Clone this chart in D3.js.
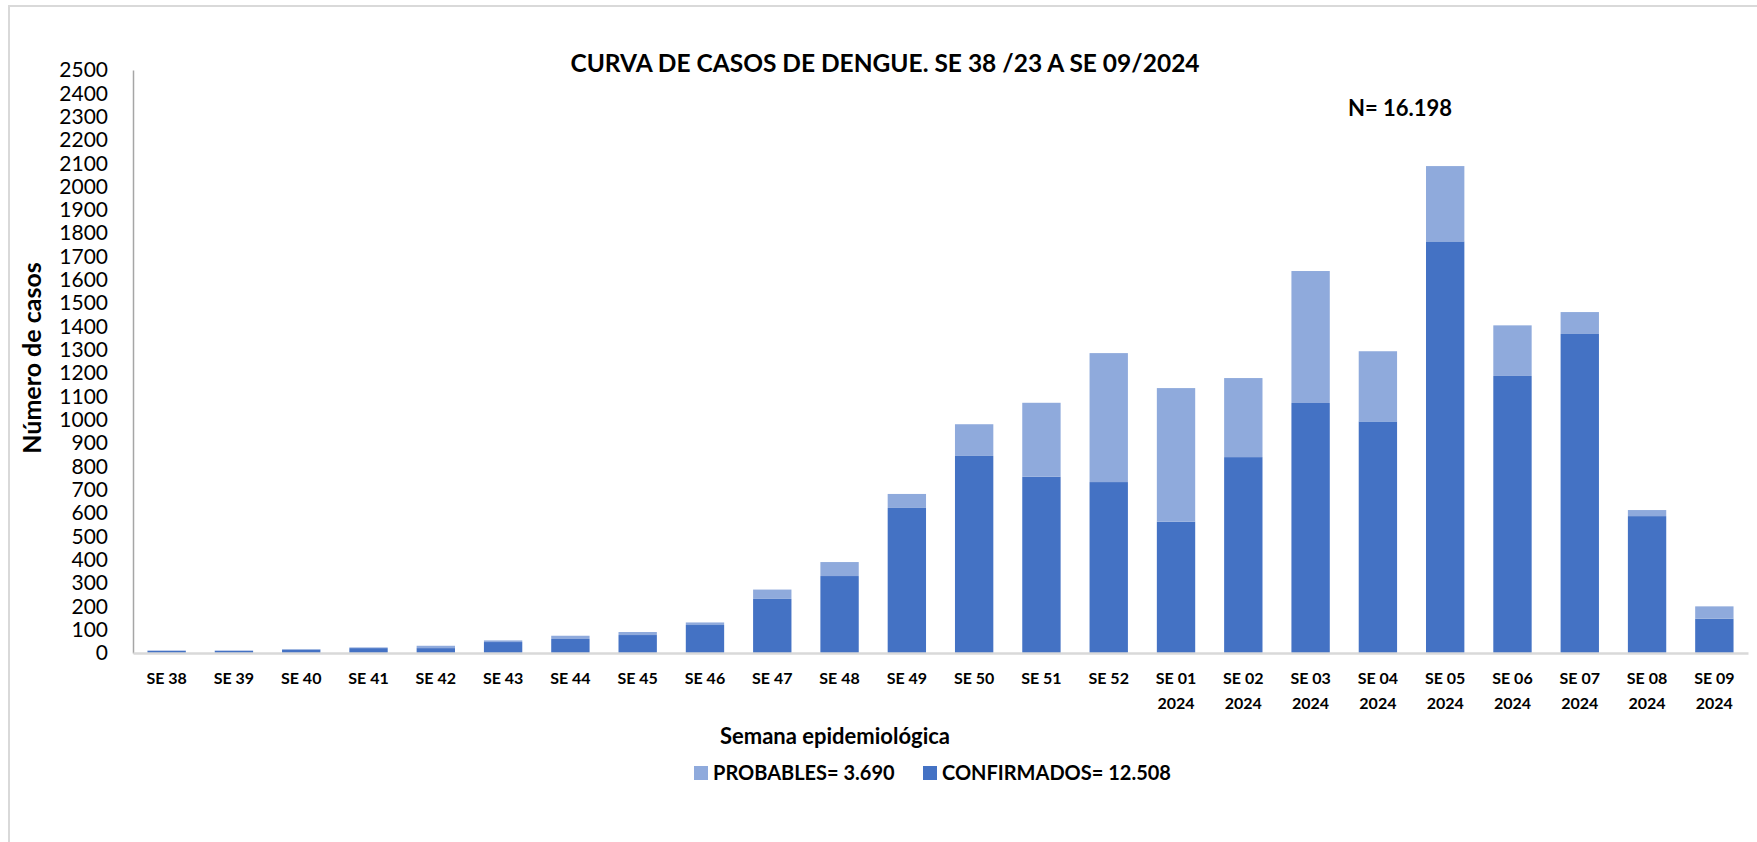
<!DOCTYPE html>
<html>
<head>
<meta charset="utf-8">
<script src="https://cdn.jsdelivr.net/npm/d3@7"></script>
<style>
  body { margin: 0; background: #fff; }
  text { font-family: Lato, "Open Sans", sans-serif; fill: #000; }
</style>
</head>
<body>
<div id="main"></div>
<script>

var weeks = ['SE 38', 'SE 39', 'SE 40', 'SE 41', 'SE 42', 'SE 43', 'SE 44', 'SE 45', 'SE 46', 'SE 47', 'SE 48', 'SE 49', 'SE 50', 'SE 51', 'SE 52',
  'SE 01|2024', 'SE 02|2024', 'SE 03|2024', 'SE 04|2024', 'SE 05|2024', 'SE 06|2024', 'SE 07|2024', 'SE 08|2024', 'SE 09|2024'];

var confirmados = [9, 9, 14, 21, 21, 47, 60, 77, 120, 232, 330, 622, 845, 756, 733, 563, 840, 1072, 993, 1765, 1188, 1368, 587, 147];

var probables = [2, 2, 3, 3, 10, 7, 14, 13, 11, 40, 60, 60, 136, 317, 553, 573, 339, 566, 301, 323, 217, 94, 26, 53];

var yTicks = d3.range(0, 2501, 100);

var title = 'CURVA DE CASOS DE DENGUE. SE 38 /23 A SE 09/2024';
var totalLabel = 'N= 16.198';
var legendItems = [
  {name: 'PROBABLES= 3.690', key: 'prob'},
  {name: 'CONFIRMADOS= 12.508', key: 'conf'}
];

var colors = {conf: '#4472C4', prob: '#8FAADC'};

function create_chart() {

  var width = 1757;
  var height = 842;

  var svg = d3.select('#main').append('svg').attr('width', width).attr('height', height);

  // outer frame (only top/left visible in the original)
  svg.append('rect')
    .attr('x', 9).attr('y', 6)
    .attr('width', 1800).attr('height', 900)
    .attr('fill', 'none')
    .attr('stroke', '#D9D9D9')
    .attr('stroke-width', 2);

  var xScale = d3.scaleBand()
    .domain(weeks)
    .range([133, 1748])
    .paddingInner(0.43)
    .paddingOuter(0.215);

  var yScale = d3.scaleLinear()
    .domain([0, 2500])
    .range([653, 70]);

  var rows = weeks.map(function (w, i) {
    return {week: w, conf: confirmados[i], prob: probables[i]};
  });

  var stacked = d3.stack().keys(['conf', 'prob'])(rows);

  svg.selectAll('.layer')
    .data(stacked)
    .enter()
    .append('g')
    .attr('fill', function (d) {
      return colors[d.key]
    })
    .selectAll('rect')
    .data(function (d) {
      return d
    })
    .enter()
    .append('rect')
    .attr('x', function (d) {
      return xScale(d.data.week)
    })
    .attr('width', xScale.bandwidth())
    .attr('y', function (d) {
      return yScale(d[1])
    })
    .attr('height', function (d) {
      return yScale(d[0]) - yScale(d[1])
    });

  // y axis
  var yAxis = svg.append('g')
    .attr('transform', 'translate(133,0)')
    .call(d3.axisLeft(yScale).tickValues(yTicks).tickSize(0).tickPadding(25).tickFormat(d3.format('d')));

  yAxis.select('.domain').attr('stroke', '#A6A6A6').attr('stroke-width', 1.5);

  yAxis.selectAll('text')
    .attr('font-size', 21)
    .attr('font-family', 'Lato')
    .attr('fill', '#000');

  // x axis
  var xAxis = svg.append('g')
    .attr('transform', 'translate(0,653)')
    .call(d3.axisBottom(xScale).tickSize(0).tickFormat(''));

  xAxis.select('.domain').attr('stroke', '#D9D9D9').attr('stroke-width', 2.5);

  svg.selectAll('.xlabel')
    .data(weeks)
    .enter()
    .append('text')
    .attr('x', function (d) {
      return xScale(d) + xScale.bandwidth() / 2
    })
    .attr('y', 684)
    .attr('text-anchor', 'middle')
    .attr('font-size', 16)
    .attr('font-weight', 'bold')
    .each(function (d) {
      var parts = d.split('|');
      var el = d3.select(this);
      parts.forEach(function (p, j) {
        el.append('tspan')
          .attr('x', el.attr('x'))
          .attr('dy', j === 0 ? 0 : 25)
          .text(p)
      })
    });

  // titles
  svg.append('text')
    .attr('x', 885).attr('y', 72)
    .attr('text-anchor', 'middle')
    .attr('font-size', 24.5)
    .attr('font-weight', 'bold')
    .text(title);

  svg.append('text')
    .attr('x', 1400).attr('y', 116)
    .attr('text-anchor', 'middle')
    .attr('font-size', 22)
    .attr('font-weight', 'bold')
    .text(totalLabel);

  svg.append('text')
    .attr('transform', 'translate(41,358) rotate(-90)')
    .attr('text-anchor', 'middle')
    .attr('font-size', 25)
    .attr('font-weight', 'bold')
    .text('Número de casos');

  svg.append('text')
    .attr('x', 835).attr('y', 744)
    .attr('text-anchor', 'middle')
    .attr('font-size', 22)
    .attr('font-weight', 'bold')
    .text('Semana epidemiológica');

  // legend
  var legendX = [694, 923];
  var legend = svg.selectAll('.legend')
    .data(legendItems)
    .enter()
    .append('g')
    .attr('transform', function (d, i) {
      return 'translate(' + legendX[i] + ',766)'
    });

  legend.append('rect')
    .attr('width', 14).attr('height', 14)
    .attr('fill', function (d) {
      return colors[d.key]
    });

  legend.append('text')
    .attr('x', 19).attr('y', 14)
    .attr('font-size', 20)
    .attr('font-weight', 'bold')
    .text(function (d) {
      return d.name
    });
}

create_chart();
</script>
</body>
</html>
